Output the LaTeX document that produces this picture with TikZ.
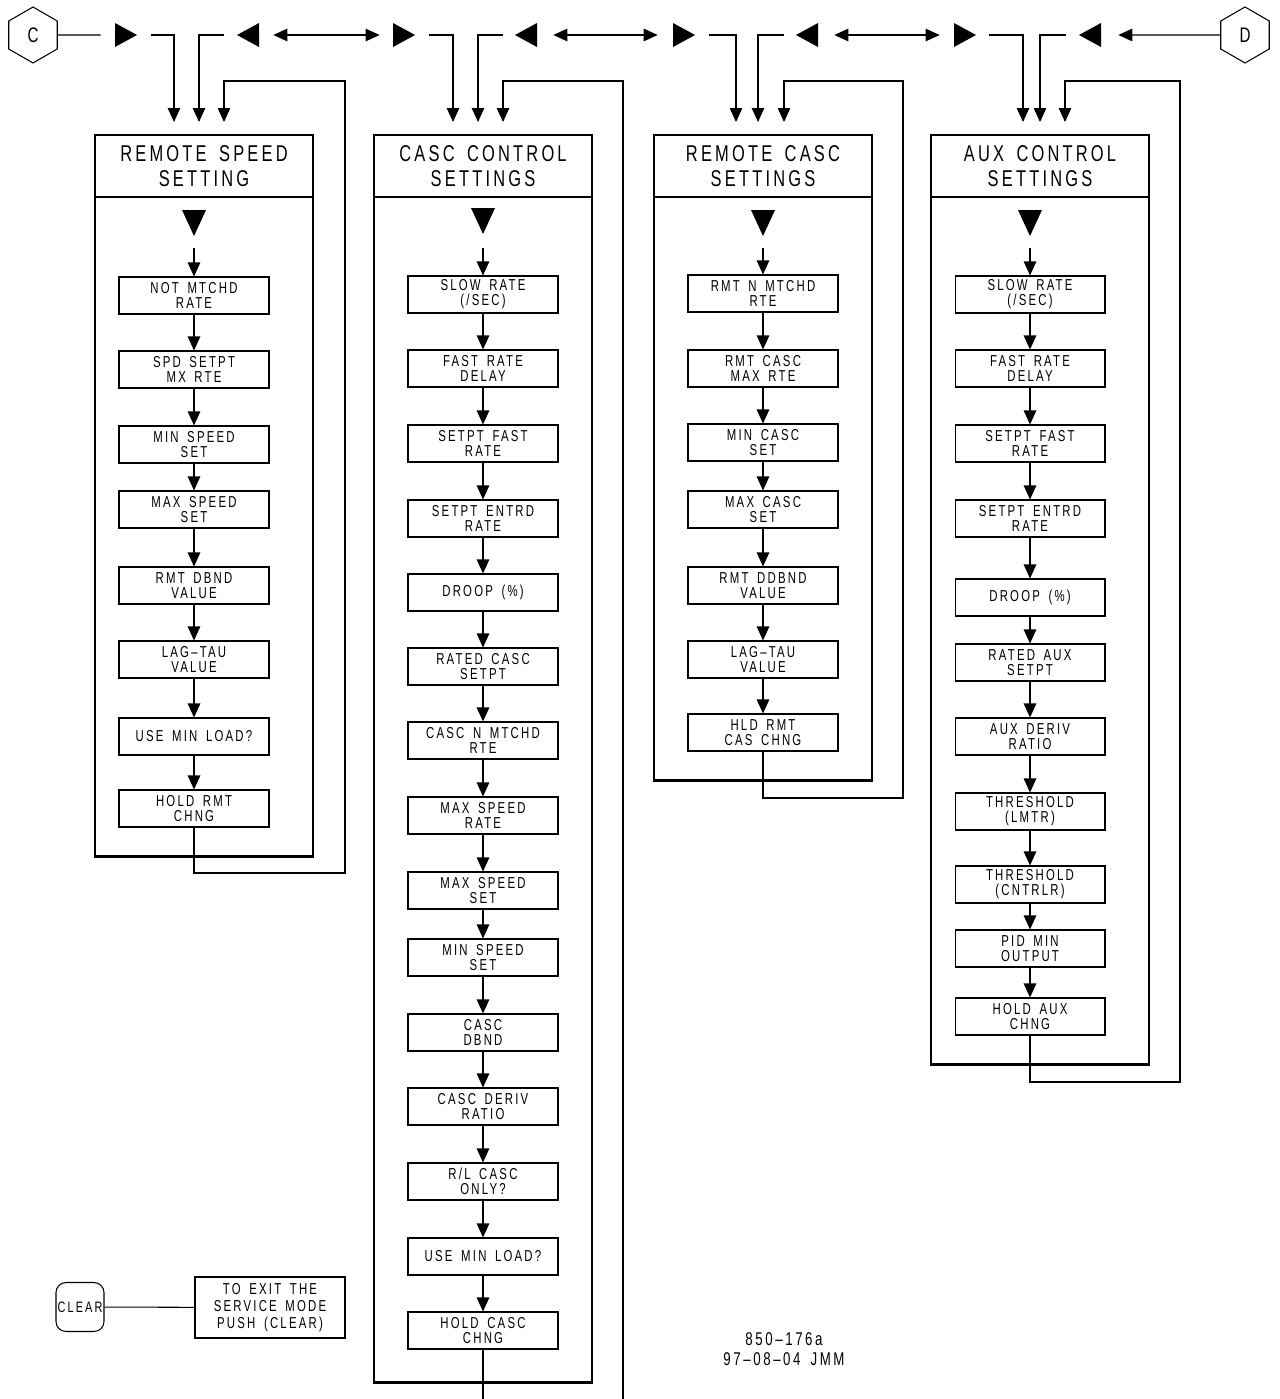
\documentclass[tikz,border=0pt]{standalone}
\usepackage{fontspec}
\newfontfamily\cadfont[FakeStretch=0.72,LetterSpace=14,WordSpace=1.6]{Liberation Sans}
\usetikzlibrary{positioning, arrows.meta, shapes.geometric}

\begin{document}
\begin{tikzpicture}[
    x=0.02cm, y=-0.02cm,
    >={Triangle[length=0.28cm,width=0.25cm]},
    stepbox/.style={draw, line width=0.6pt, minimum width=3cm, minimum height=0.74cm, inner sep=0pt,
                    align=center, font=\cadfont\fontsize{9}{8.6}\selectfont},
    framehead/.style={draw, line width=1.6pt, outer sep=0pt, minimum width=4.36cm, minimum height=1.24cm,
                      inner sep=0pt, align=center, font=\cadfont\fontsize{13}{14.2}\selectfont},
    framebody/.style={draw, line width=1.6pt, outer sep=0pt, minimum width=4.36cm, inner sep=0pt},
    keyright/.style={minimum width=0.44cm, minimum height=0.48cm, inner sep=0pt,
                     path picture={\fill (path picture bounding box.north west) -- (path picture bounding box.east)
                                   -- (path picture bounding box.south west) -- cycle;}},
    keyleft/.style={minimum width=0.44cm, minimum height=0.48cm, inner sep=0pt,
                    path picture={\fill (path picture bounding box.north east) -- (path picture bounding box.west)
                                  -- (path picture bounding box.south east) -- cycle;}},
    keydown/.style={minimum width=0.48cm, minimum height=0.52cm, inner sep=0pt,
                    path picture={\fill (path picture bounding box.north west) -- (path picture bounding box.north east)
                                  -- (path picture bounding box.south) -- cycle;}},
    hexkey/.style={draw, regular polygon, regular polygon sides=6, shape border rotate=30, minimum size=1.12cm,
                   inner sep=0pt, line width=0.6pt, font=\cadfont\fontsize{12}{12}\selectfont},
    clearkey/.style={draw, rounded corners=0.2cm, minimum width=0.96cm, minimum height=0.98cm, inner sep=0pt,
                     line width=0.6pt, font=\cadfont\fontsize{8.6}{8.6}\selectfont},
    note/.style={font=\cadfont\fontsize{10.5}{11.3}\selectfont, align=center},
    arrow/.style={->, line width=0.6pt},
    dblarrow/.style={<->, line width=0.6pt},
    wire/.style={line width=0.6pt},
]
\useasboundingbox (0,0) rectangle (1280,1399);

% ============================================================
% KEY ROW (top)
% ============================================================
\node[hexkey] (hexC) at (33,35) {C};
\node[keyright] (k1r) at (126,35) {};
\node[keyleft]  (k1l) at (248,35) {};
\node[keyright] (k2r) at (404,35) {};
\node[keyleft]  (k2l) at (526,35) {};
\node[keyright] (k3r) at (684,35) {};
\node[keyleft]  (k3l) at (807,35) {};
\node[keyright] (k4r) at (965,35) {};
\node[keyleft]  (k4l) at (1090,35) {};
\node[hexkey] (hexD) at (1245,35) {D};

\draw[wire] (hexC) -- ([xshift=-0.28cm]k1r.west);
\draw[dblarrow] ([xshift=0.28cm]k1l.east) -- ([xshift=-0.26cm]k2r.west);
\draw[dblarrow] ([xshift=0.32cm]k2l.east) -- ([xshift=-0.3cm]k3r.west);
\draw[dblarrow] ([xshift=0.32cm]k3l.east) -- ([xshift=-0.28cm]k4r.west);
\draw[arrow] (hexD) -- ([xshift=0.34cm]k4l.east);

% entry points above each frame
\coordinate (rs-in1) at (174,122); \coordinate (rs-in2) at (199,122); \coordinate (rs-in3) at (224,122);
\coordinate (cc-in1) at (453,122); \coordinate (cc-in2) at (478,122); \coordinate (cc-in3) at (503,122);
\coordinate (rc-in1) at (736,122); \coordinate (rc-in2) at (758,122); \coordinate (rc-in3) at (784,122);
\coordinate (ax-in1) at (1023,122); \coordinate (ax-in2) at (1040,122); \coordinate (ax-in3) at (1065,122);

\draw[arrow] ([xshift=0.28cm]k1r.east) -| (rs-in1);
\draw[arrow] ([xshift=-0.26cm]k1l.west) -| (rs-in2);
\draw[arrow] ([xshift=0.28cm]k2r.east) -| (cc-in1);
\draw[arrow] ([xshift=-0.24cm]k2l.west) -| (cc-in2);
\draw[arrow] ([xshift=0.28cm]k3r.east) -| (rc-in1);
\draw[arrow] ([xshift=-0.24cm]k3l.west) -| (rc-in2);
\draw[arrow] ([xshift=0.26cm]k4r.east) -| (ax-in1);
\draw[arrow] ([xshift=-0.26cm]k4l.west) -| (ax-in2);

% ============================================================
% REMOTE SPEED SETTING
% ============================================================
\node[framehead] (rs-title) at (204,166) {REMOTE SPEED\\SETTING};
\node[framebody, minimum height=13.2cm, below=0pt of rs-title] (rs-body) {};
\node[keydown] (rs-key) at (194,223) {};

\node[stepbox] (rs1) at (194,295.5) {NOT MTCHD\\RATE};
\node[stepbox] (rs2) at (194,369.5) {SPD SETPT\\MX RTE};
\node[stepbox] (rs3) at (194,444.5) {MIN SPEED\\SET};
\node[stepbox] (rs4) at (194,509.5) {MAX SPEED\\SET};
\node[stepbox] (rs5) at (194,585.5) {RMT DBND\\VALUE};
\node[stepbox] (rs6) at (194,659.5) {LAG–TAU\\VALUE};
\node[stepbox] (rs7) at (194,736.5) {USE MIN LOAD?};
\node[stepbox] (rs8) at (194,808.5) {HOLD RMT\\CHNG};

\draw[arrow] ([yshift=-0.24cm]rs-key.south) -- (rs1);
\draw[arrow] (rs1) -- (rs2);
\draw[arrow] (rs2) -- (rs3);
\draw[arrow] (rs3) -- (rs4);
\draw[arrow] (rs4) -- (rs5);
\draw[arrow] (rs5) -- (rs6);
\draw[arrow] (rs6) -- (rs7);
\draw[arrow] (rs7) -- (rs8);

% return loop
\coordinate (rs-lb) at (345,873);
\coordinate (rs-lt) at (345,81);
\draw[arrow] (rs8.south) |- (rs-lb) -- (rs-lt) -| (rs-in3);

% ============================================================
% CASC CONTROL SETTINGS
% ============================================================
\node[framehead] (cc-title) at (483,166) {CASC CONTROL\\SETTINGS};
\node[framebody, minimum height=23.72cm, below=0pt of cc-title] (cc-body) {};
\node[keydown] (cc-key) at (483,221) {};

\node[stepbox] (cc1)  at (483,294.5)  {SLOW RATE\\(/SEC)};
\node[stepbox] (cc2)  at (483,368.5)  {FAST RATE\\DELAY};
\node[stepbox] (cc3)  at (483,443.5)  {SETPT FAST\\RATE};
\node[stepbox] (cc4)  at (483,518.5)  {SETPT ENTRD\\RATE};
\node[stepbox] (cc5)  at (483,592.5)  {DROOP (\%)};
\node[stepbox] (cc6)  at (483,666.5)  {RATED CASC\\SETPT};
\node[stepbox] (cc7)  at (483,740.5)  {CASC N MTCHD\\RTE};
\node[stepbox] (cc8)  at (483,815.5)  {MAX SPEED\\RATE};
\node[stepbox] (cc9)  at (483,890.5)  {MAX SPEED\\SET};
\node[stepbox] (cc10) at (483,957.5)  {MIN SPEED\\SET};
\node[stepbox] (cc11) at (483,1032.5) {CASC\\DBND};
\node[stepbox] (cc12) at (483,1106.5) {CASC DERIV\\RATIO};
\node[stepbox] (cc13) at (483,1181.5) {R/L CASC\\ONLY?};
\node[stepbox] (cc14) at (483,1256.5) {USE MIN LOAD?};
\node[stepbox] (cc15) at (483,1330.5) {HOLD CASC\\CHNG};

\draw[arrow] ([yshift=-0.28cm]cc-key.south) -- (cc1);
\draw[arrow] (cc1) -- (cc2);
\draw[arrow] (cc2) -- (cc3);
\draw[arrow] (cc3) -- (cc4);
\draw[arrow] (cc4) -- (cc5);
\draw[arrow] (cc5) -- (cc6);
\draw[arrow] (cc6) -- (cc7);
\draw[arrow] (cc7) -- (cc8);
\draw[arrow] (cc8) -- (cc9);
\draw[arrow] (cc9) -- (cc10);
\draw[arrow] (cc10) -- (cc11);
\draw[arrow] (cc11) -- (cc12);
\draw[arrow] (cc12) -- (cc13);
\draw[arrow] (cc13) -- (cc14);
\draw[arrow] (cc14) -- (cc15);

% loop runs off the sheet
\coordinate (cc-out) at (483,1399);
\coordinate (cc-lb) at (623,1399);
\coordinate (cc-lt) at (623,81);
\draw[wire] (cc15.south) -- (cc-out);
\draw[arrow] (cc-lb) -- (cc-lt) -| (cc-in3);

% ============================================================
% REMOTE CASC SETTINGS
% ============================================================
\node[framehead] (rc-title) at (763,166) {REMOTE CASC\\SETTINGS};
\node[framebody, minimum height=11.68cm, below=0pt of rc-title] (rc-body) {};
\node[keydown] (rc-key) at (763,223) {};

\node[stepbox] (rc1) at (763,293.5) {RMT N MTCHD\\RTE};
\node[stepbox] (rc2) at (763,368.5) {RMT CASC\\MAX RTE};
\node[stepbox] (rc3) at (763,442.5) {MIN CASC\\SET};
\node[stepbox] (rc4) at (763,509.5) {MAX CASC\\SET};
\node[stepbox] (rc5) at (763,585.5) {RMT DDBND\\VALUE};
\node[stepbox] (rc6) at (763,659.5) {LAG–TAU\\VALUE};
\node[stepbox] (rc7) at (763,732.5) {HLD RMT\\CAS CHNG};

\draw[arrow] ([yshift=-0.24cm]rc-key.south) -- (rc1);
\draw[arrow] (rc1) -- (rc2);
\draw[arrow] (rc2) -- (rc3);
\draw[arrow] (rc3) -- (rc4);
\draw[arrow] (rc4) -- (rc5);
\draw[arrow] (rc5) -- (rc6);
\draw[arrow] (rc6) -- (rc7);

\coordinate (rc-lb) at (903,798);
\coordinate (rc-lt) at (903,81);
\draw[arrow] (rc7.south) |- (rc-lb) -- (rc-lt) -| (rc-in3);

% ============================================================
% AUX CONTROL SETTINGS
% ============================================================
\node[framehead] (ax-title) at (1040,166) {AUX CONTROL\\SETTINGS};
\node[framebody, minimum height=17.36cm, below=0pt of ax-title] (ax-body) {};
\node[keydown] (ax-key) at (1030,223) {};

\node[stepbox] (ax1)  at (1030,294.5)  {SLOW RATE\\(/SEC)};
\node[stepbox] (ax2)  at (1030,368.5)  {FAST RATE\\DELAY};
\node[stepbox] (ax3)  at (1030,443.5)  {SETPT FAST\\RATE};
\node[stepbox] (ax4)  at (1030,518.5)  {SETPT ENTRD\\RATE};
\node[stepbox] (ax5)  at (1030,597.5)  {DROOP (\%)};
\node[stepbox] (ax6)  at (1030,662.5)  {RATED AUX\\SETPT};
\node[stepbox] (ax7)  at (1030,736.5)  {AUX DERIV\\RATIO};
\node[stepbox] (ax8)  at (1030,811.5)  {THRESHOLD\\(LMTR)};
\node[stepbox] (ax9)  at (1030,884.5)  {THRESHOLD\\(CNTRLR)};
\node[stepbox] (ax10) at (1030,948.5)  {PID MIN\\OUTPUT};
\node[stepbox] (ax11) at (1030,1016.5) {HOLD AUX\\CHNG};

\draw[arrow] ([yshift=-0.24cm]ax-key.south) -- (ax1);
\draw[arrow] (ax1) -- (ax2);
\draw[arrow] (ax2) -- (ax3);
\draw[arrow] (ax3) -- (ax4);
\draw[arrow] (ax4) -- (ax5);
\draw[arrow] (ax5) -- (ax6);
\draw[arrow] (ax6) -- (ax7);
\draw[arrow] (ax7) -- (ax8);
\draw[arrow] (ax8) -- (ax9);
\draw[arrow] (ax9) -- (ax10);
\draw[arrow] (ax10) -- (ax11);

\coordinate (ax-lb) at (1180,1082);
\coordinate (ax-lt) at (1180,81);
\draw[arrow] (ax11.south) |- (ax-lb) -- (ax-lt) -| (ax-in3);

% ============================================================
% CLEAR key and drawing number
% ============================================================
\node[clearkey] (clear) at (80,1307) {CLEAR};
\node[stepbox, minimum height=1.22cm, font=\cadfont\fontsize{9}{9.6}\selectfont] (exitnote) at (270,1307.5)
    {TO EXIT THE\\SERVICE MODE\\PUSH (CLEAR)};
\draw[wire] (clear) -- (exitnote);

\node[note] (drawno) at (784,1349) {850–176a\\97–08–04 JMM};

\end{tikzpicture}
\end{document}
